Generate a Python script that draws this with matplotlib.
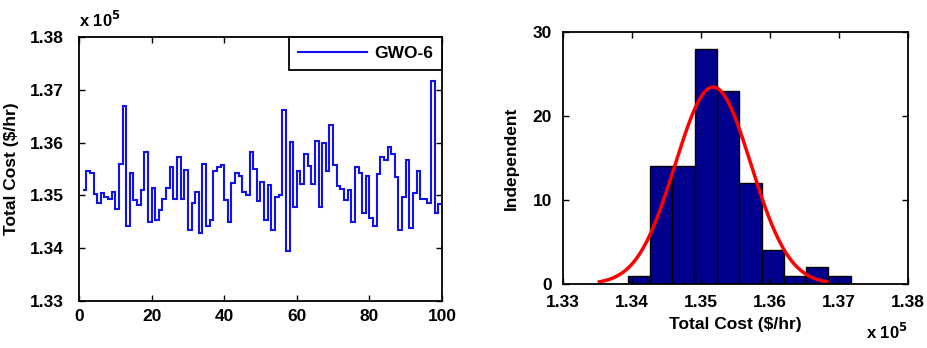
import numpy as np
import matplotlib.pyplot as plt
from matplotlib.ticker import FuncFormatter

# total cost per run, in units of 1e5 $/hr
cost = [1.3510, 1.3546, 1.3543, 1.3502, 1.3485, 1.3505, 1.3497, 1.3494, 1.3507, 1.3475,
        1.3560, 1.3670, 1.3442, 1.3543, 1.3492, 1.3482, 1.3510, 1.3582, 1.3449, 1.3514,
        1.3454, 1.3473, 1.3494, 1.3515, 1.3553, 1.3494, 1.3572, 1.3494, 1.3549, 1.3435,
        1.3486, 1.3506, 1.3429, 1.3560, 1.3443, 1.3454, 1.3546, 1.3553, 1.3557, 1.3491,
        1.3449, 1.3524, 1.3543, 1.3537, 1.3506, 1.3500, 1.3582, 1.3550, 1.3489, 1.3525,
        1.3454, 1.3519, 1.3435, 1.3497, 1.3500, 1.3662, 1.3394, 1.3601, 1.3478, 1.3546,
        1.3521, 1.3578, 1.3556, 1.3521, 1.3603, 1.3478, 1.3599, 1.3546, 1.3633, 1.3557,
        1.3518, 1.3513, 1.3491, 1.3511, 1.3449, 1.3553, 1.3542, 1.3467, 1.3537, 1.3458,
        1.3443, 1.3540, 1.3572, 1.3568, 1.3591, 1.3578, 1.3534, 1.3434, 1.3497, 1.3568,
        1.3438, 1.3505, 1.3546, 1.3494, 1.3494, 1.3485, 1.3717, 1.3466, 1.3483]
runs = np.arange(1, len(cost) + 2)

# histogram counts (right panel)
counts = [1, 14, 14, 28, 23, 12, 4, 1, 2, 1]

cost = np.array(cost)
edges = np.linspace(cost.min(), cost.max(), len(counts) + 1)
bw = edges[1] - edges[0]
mu = cost.mean()
sigma = cost.std(ddof=1)
xs = np.linspace(mu - 3 * sigma, mu + 3 * sigma, 200)
fit = sum(counts) * bw * np.exp(-0.5 * ((xs - mu) / sigma) ** 2) / (sigma * np.sqrt(2 * np.pi))

plt.rcParams['font.family'] = 'Liberation Sans'
plt.rcParams['font.weight'] = 'bold'
plt.rcParams['font.size'] = 12.5

fig = plt.figure(figsize=(9.27, 3.48), dpi=100)

# left panel
ax1 = fig.add_axes([0.0852, 0.135, 0.3916, 0.7586])
ax1.stairs(cost, runs, color='#1010f0', lw=1.5, baseline=None, label='GWO-6')
ax1.set_xlim(0, 100)
ax1.set_ylim(1.33, 1.38)
ax1.set_xticks([0, 20, 40, 60, 80, 100])
ax1.set_yticks([1.33, 1.34, 1.35, 1.36, 1.37, 1.38])
ax1.yaxis.set_major_formatter(FuncFormatter(lambda v, p: '%.2f' % v))
ax1.set_ylabel('Total Cost ($/hr)', fontweight='bold', fontsize=12.5, labelpad=8)
ax1.text(0, 1.025, 'x 10$^5$', transform=ax1.transAxes, ha='left', va='bottom',
         fontweight='bold', fontsize=12)
leg = ax1.legend(loc='upper right', borderaxespad=0, fancybox=False, edgecolor='k',
                 framealpha=1, handlelength=4, handletextpad=0.4, fontsize=12.5,
                 borderpad=0.5)
leg.get_frame().set_linewidth(1.3)
ax1.tick_params(axis='y', pad=11)
ax1.tick_params(axis='x', pad=6)

# right panel
ax2 = fig.add_axes([0.6073, 0.1839, 0.3722, 0.7241])
ax2.bar(edges[:-1], counts, width=bw, align='edge', color='#00008c', edgecolor='k', lw=1)
ax2.plot(xs, fit, color='red', lw=2.5)
ax2.set_xlim(1.33, 1.38)
ax2.set_ylim(0, 30)
ax2.set_xticks([1.33, 1.34, 1.35, 1.36, 1.37, 1.38])
ax2.set_yticks([0, 10, 20, 30])
ax2.xaxis.set_major_formatter(FuncFormatter(lambda v, p: '%.2f' % v))
ax2.set_xlabel('Total Cost ($/hr)', fontweight='bold', fontsize=12.5, labelpad=5)
ax2.set_ylabel('Independent', fontweight='bold', fontsize=12.5, labelpad=10)
ax2.text(1.0, -0.15, 'x 10$^5$', transform=ax2.transAxes, ha='right', va='top',
         fontweight='bold', fontsize=12)
ax2.tick_params(axis='x', pad=8)
ax2.tick_params(axis='y', pad=8)

for ax in (ax1, ax2):
    ax.tick_params(direction='in', top=True, right=True, length=4, width=1)
    for s in ax.spines.values():
        s.set_linewidth(1.3)

fig.savefig('out.png', dpi=100)
